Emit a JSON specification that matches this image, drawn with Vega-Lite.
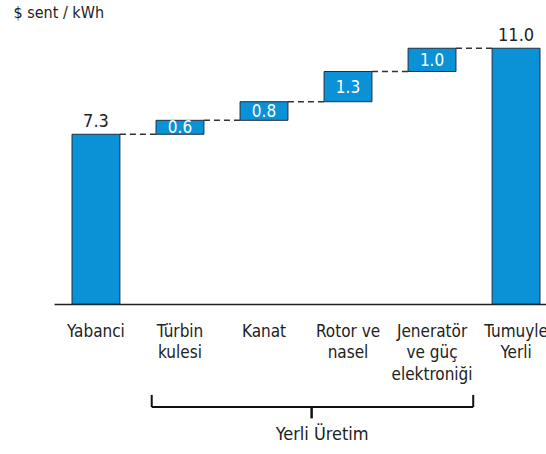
{
  "$schema": "https://vega.github.io/schema/vega-lite/v6.json",
  "autosize": {"type": "none"},
  "width": 492,
  "height": 279,
  "padding": {"left": 54, "top": 25, "right": 0, "bottom": 150},
  "background": "white",
  "config": {
    "view": {"stroke": null},
    "font": "Liberation Sans Narrow, DejaVu Sans Condensed, sans-serif"
  },
  "datasets": {
    "steps": [
      {"cat": "Yabanci", "start": 0, "end": 7.3, "amount": "7.3", "kind": "total"},
      {"cat": "Türbin kulesi", "start": 7.3, "end": 7.9, "amount": "0.6", "kind": "step"},
      {"cat": "Kanat", "start": 7.9, "end": 8.7, "amount": "0.8", "kind": "step"},
      {"cat": "Rotor ve nasel", "start": 8.7, "end": 10.0, "amount": "1.3", "kind": "step"},
      {"cat": "Jeneratör ve güç elektroniği", "start": 10.0, "end": 11.0, "amount": "1.0", "kind": "step"},
      {"cat": "Tumuyle Yerli", "start": 0, "end": 11.0, "amount": "11.0", "kind": "total"}
    ],
    "links": [
      {"from": "Yabanci", "to": "Türbin kulesi", "level": 7.3},
      {"from": "Türbin kulesi", "to": "Kanat", "level": 7.9},
      {"from": "Kanat", "to": "Rotor ve nasel", "level": 8.7},
      {"from": "Rotor ve nasel", "to": "Jeneratör ve güç elektroniği", "level": 10.0},
      {"from": "Jeneratör ve güç elektroniği", "to": "Tumuyle Yerli", "level": 11.0}
    ],
    "bracket": [
      {"piece": "bar", "from": "Türbin kulesi", "to": "Jeneratör ve güç elektroniği", "y1": -4.43, "y2": -4.43},
      {"piece": "left", "from": "Türbin kulesi", "y1": -3.91, "y2": -4.43},
      {"piece": "right", "from": "Jeneratör ve güç elektroniği", "y1": -3.91, "y2": -4.43},
      {"piece": "mid", "from": "Rotor ve nasel", "y1": -4.43, "y2": -4.92},
      {"piece": "label", "from": "Rotor ve nasel", "y1": -5.63, "text": "Yerli Üretim"}
    ]
  },
  "encoding": {
    "x": {
      "field": "cat",
      "type": "nominal",
      "scale": {
        "type": "band",
        "domain": ["Yabanci", "Türbin kulesi", "Kanat", "Rotor ve nasel", "Jeneratör ve güç elektroniği", "Tumuyle Yerli"],
        "paddingInner": 0.43,
        "paddingOuter": 0.143,
        "align": 0.75
      },
      "axis": {
        "title": null,
        "orient": "bottom",
        "domainColor": "#222222",
        "domainWidth": 1.5,
        "ticks": false,
        "labelAngle": 0,
        "labelFontSize": 17,
        "labelColor": "#222222",
        "labelPadding": 19,
        "labelBaseline": "top",
        "labelLineHeight": 21.5,
        "labelOverlap": false,
        "labelBound": false,
        "labelFlush": false,
        "labelExpr": "datum.value == 'Türbin kulesi' ? ['Türbin','kulesi'] : datum.value == 'Rotor ve nasel' ? ['Rotor ve','nasel'] : datum.value == 'Jeneratör ve güç elektroniği' ? ['Jeneratör','ve güç','elektroniği'] : datum.value == 'Tumuyle Yerli' ? ['Tumuyle','Yerli'] : datum.value"
      }
    }
  },
  "layer": [
    {
      "data": {"name": "steps"},
      "mark": {"type": "bar", "fill": "#0b91d5", "stroke": "#1d2f44", "strokeWidth": 1},
      "encoding": {
        "y": {
          "field": "start",
          "type": "quantitative",
          "scale": {"domain": [0, 12], "nice": false, "zero": false},
          "axis": {
            "title": "$ sent / kWh",
            "titleAngle": 0,
            "titleAlign": "left",
            "titleBaseline": "middle",
            "titleX": -41,
            "titleY": -13,
            "titleFontSize": 16,
            "titleFontWeight": "normal",
            "titleColor": "#222222",
            "domain": false,
            "ticks": false,
            "labels": false,
            "grid": false
          }
        },
        "y2": {"field": "end"}
      }
    },
    {
      "data": {"name": "links"},
      "mark": {"type": "rule", "stroke": "#333333", "strokeWidth": 1.5, "strokeDash": [6, 4]},
      "encoding": {
        "x": {"field": "from", "type": "nominal", "bandPosition": 1},
        "x2": {"field": "to", "bandPosition": 0},
        "y": {"field": "level", "type": "quantitative"}
      }
    },
    {
      "data": {"name": "steps"},
      "transform": [{"filter": "datum.kind == 'total'"}],
      "mark": {"type": "text", "baseline": "alphabetic", "dy": -7, "fontSize": 18, "fill": "#222222"},
      "encoding": {
        "y": {"field": "end", "type": "quantitative"},
        "text": {"field": "amount"}
      }
    },
    {
      "data": {"name": "steps"},
      "transform": [
        {"filter": "datum.kind == 'step'"},
        {"calculate": "(datum.start + datum.end) / 2", "as": "mid"}
      ],
      "mark": {"type": "text", "baseline": "middle", "dy": 1, "fontSize": 17, "fill": "white"},
      "encoding": {
        "y": {"field": "mid", "type": "quantitative"},
        "text": {"field": "amount"}
      }
    },
    {
      "data": {"name": "bracket"},
      "transform": [{"filter": "datum.piece == 'bar'"}],
      "mark": {"type": "rule", "stroke": "#111111", "strokeWidth": 2},
      "encoding": {
        "x": {"field": "from", "type": "nominal", "bandPosition": -0.09},
        "x2": {"field": "to", "bandPosition": 1.36},
        "y": {"field": "y1", "type": "quantitative"}
      }
    },
    {
      "data": {"name": "bracket"},
      "transform": [{"filter": "datum.piece == 'left'"}],
      "mark": {"type": "rule", "stroke": "#111111", "strokeWidth": 2},
      "encoding": {
        "x": {"field": "from", "type": "nominal", "bandPosition": -0.09},
        "y": {"field": "y1", "type": "quantitative"},
        "y2": {"field": "y2"}
      }
    },
    {
      "data": {"name": "bracket"},
      "transform": [{"filter": "datum.piece == 'right'"}],
      "mark": {"type": "rule", "stroke": "#111111", "strokeWidth": 2},
      "encoding": {
        "x": {"field": "from", "type": "nominal", "bandPosition": 1.36},
        "y": {"field": "y1", "type": "quantitative"},
        "y2": {"field": "y2"}
      }
    },
    {
      "data": {"name": "bracket"},
      "transform": [{"filter": "datum.piece == 'mid'"}],
      "mark": {"type": "rule", "stroke": "#111111", "strokeWidth": 2.5},
      "encoding": {
        "x": {"field": "from", "type": "nominal", "bandPosition": -0.26},
        "y": {"field": "y1", "type": "quantitative"},
        "y2": {"field": "y2"}
      }
    },
    {
      "data": {"name": "bracket"},
      "transform": [{"filter": "datum.piece == 'label'"}],
      "mark": {"type": "text", "baseline": "middle", "fontSize": 18, "fill": "#222222"},
      "encoding": {
        "x": {"field": "from", "type": "nominal", "bandPosition": -0.04},
        "y": {"field": "y1", "type": "quantitative"},
        "text": {"field": "text"}
      }
    }
  ]
}
